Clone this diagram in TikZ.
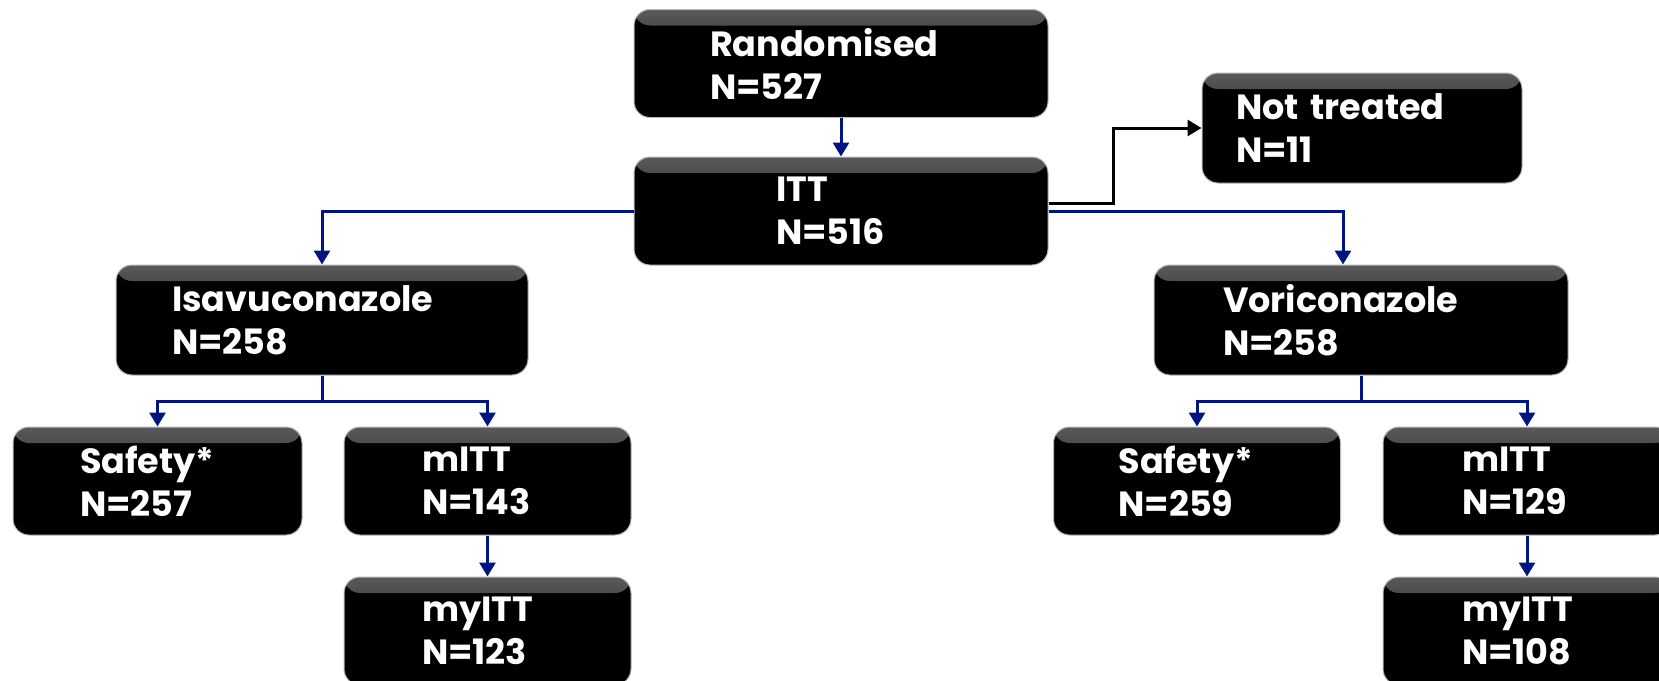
\documentclass[tikz,border=0pt]{standalone}
\usepackage{fontspec}
\setmainfont{Poppins}
\usepackage{xcolor}
\usepackage{tikz}
\usetikzlibrary{arrows.meta,positioning,calc}

\definecolor{linkblue}{RGB}{0,20,130}

\tikzset{
  box/.style={rectangle, rounded corners=16pt, fill=black, draw=gray!55, line width=1pt,
    text=white, font=\bfseries\fontsize{35}{43}\selectfont, align=left,
    minimum height=108pt, inner ysep=0pt,
    path picture={
      \shade[top color=gray!70!black, bottom color=black]
        (path picture bounding box.north west) rectangle ([yshift=-16pt]path picture bounding box.north east);
    }},
  link/.style={linkblue, line width=3pt, -{Triangle[length=14pt,width=16pt]}},
  drop/.style={black, line width=3pt, -{Triangle[length=14pt,width=16pt]}}
}

\begin{document}
\begin{tikzpicture}[x=1pt, y=-1pt]
\useasboundingbox (0,0) rectangle (1659,680);

% top: randomised and ITT
\node[box, minimum width=414pt, text width=262pt, inner xsep=76pt] (rand) at (841,63.5) {Randomised\\N=527};
\node[box, minimum width=414pt, text width=130pt, inner xsep=142pt] (itt) at (841,211) {ITT\\N=516};
\node[box, minimum width=320pt, text width=252pt, inner xsep=34pt, minimum height=110pt] (nottr) at (1362,128) {Not treated\\N=11};

% treatment arms
\node[box, minimum width=412pt, text width=300pt, inner xsep=56pt, minimum height=110pt] (isa) at (322,320) {Isavuconazole\\N=258};
\node[box, minimum width=414pt, text width=276pt, inner xsep=69pt, minimum height=110pt] (vori) at (1361,320) {Voriconazole\\N=258};

% analysis sets, isavuconazole
\node[box, minimum width=289pt, text width=155pt, inner xsep=67pt] (safL) at (157.5,481) {Safety*\\N=257};
\node[box, minimum width=287pt, text width=131pt, inner xsep=78pt] (mittL) at (487.5,481) {mITT\\N=143};
\node[box, minimum width=287pt, text width=131pt, inner xsep=78pt] (myittL) at (487.5,631) {myITT\\N=123};

% analysis sets, voriconazole
\node[box, minimum width=287pt, text width=157pt, inner xsep=65pt] (safR) at (1197,481) {Safety*\\N=259};
\node[box, minimum width=288pt, text width=130pt, inner xsep=79pt] (mittR) at (1527,481) {mITT\\N=129};
\node[box, minimum width=288pt, text width=130pt, inner xsep=79pt] (myittR) at (1527,631) {myITT\\N=108};

% connectors
\draw[link] (rand) -- (itt);
\draw[link] (itt.west) -| (isa.north);
\draw[link] (itt.east) -| ([xshift=-18pt]vori.north);
\draw[drop] ([yshift=8pt]itt.east) -- ++(65,0) |- (nottr.west);

\foreach \sub in {safL, mittL}
  \draw[link] (isa.south) -- ++(0,26) -| (\sub.north);
\foreach \sub in {safR, mittR}
  \draw[link] (vori.south) -- ++(0,26) -| (\sub.north);

\draw[link] (mittL) -- (myittL);
\draw[link] (mittR) -- (myittR);
\end{tikzpicture}
\end{document}
